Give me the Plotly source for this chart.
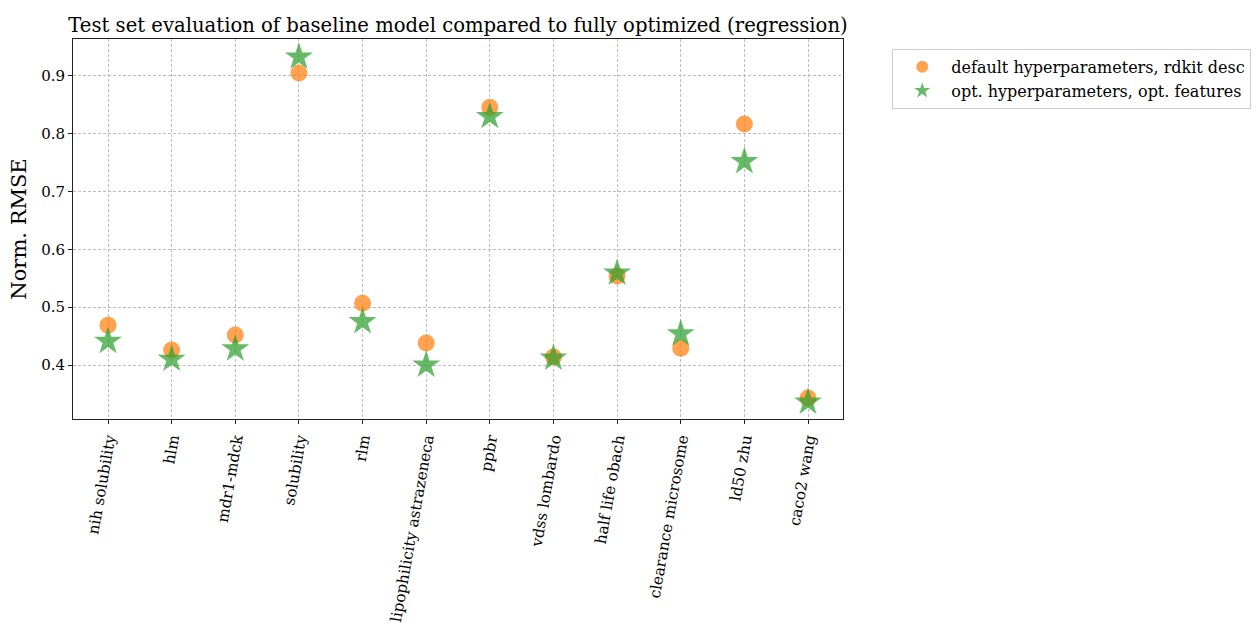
import plotly.graph_objects as go

datasets = ["nih solubility", "hlm", "mdr1-mdck", "solubility", "rlm",
            "lipophilicity astrazeneca", "ppbr", "vdss lombardo",
            "half life obach", "clearance microsome", "ld50 zhu", "caco2 wang"]
baseline_rmse = [0.469, 0.426, 0.452, 0.905, 0.507, 0.438,
                 0.846, 0.414, 0.554, 0.429, 0.817, 0.343]
optimized_rmse = [0.441, 0.410, 0.428, 0.933, 0.475, 0.400,
                  0.830, 0.412, 0.559, 0.454, 0.752, 0.336]
y_ticks = [0.4, 0.5, 0.6, 0.7, 0.8, 0.9]

FONT = "DejaVu Serif"
x_idx = list(range(len(datasets)))

fig = go.Figure()
fig.add_trace(go.Scatter(
    x=x_idx, y=baseline_rmse, mode="markers",
    name="default hyperparameters, rdkit desc",
    marker=dict(symbol="circle", size=17, color="#ff7f0e", opacity=0.72,
                line=dict(width=0)),
))
fig.add_trace(go.Scatter(
    x=x_idx, y=optimized_rmse, mode="markers",
    name="opt. hyperparameters, opt. features",
    marker=dict(symbol="star", size=21, color="#2ca02c", opacity=0.72,
                line=dict(width=0)),
))

grid = dict(showgrid=True, gridcolor="#bdbdbd", gridwidth=1, griddash="3px,2px")
fig.update_xaxes(
    range=[-0.55, 11.55], tickmode="array", tickvals=x_idx, ticktext=datasets,
    tickangle=-80, ticks="outside", ticklen=4, tickcolor="#222",
    showline=True, linecolor="#222", linewidth=1, mirror=True, zeroline=False,
    automargin=False,
    tickfont=dict(family=FONT, size=15.3, color="black"), **grid,
)
fig.update_yaxes(
    range=[0.3066, 0.964], tickmode="array", tickvals=y_ticks,
    ticktext=[f"{v:.1f}" for v in y_ticks],
    ticks="outside", ticklen=4, tickcolor="#222",
    showline=True, linecolor="#222", linewidth=1, mirror=True, zeroline=False,
    automargin=False,
    tickfont=dict(family=FONT, size=15, color="black"),
    title=dict(text="Norm. RMSE", font=dict(family=FONT, size=21, color="black"),
               standoff=8),
    **grid,
)
fig.update_layout(
    width=1256, height=630,
    margin=dict(l=73, r=413, t=39, b=211, autoexpand=False),
    paper_bgcolor="white", plot_bgcolor="white",
    title=dict(text="Test set evaluation of baseline model compared to fully optimized (regression)",
               font=dict(family=FONT, size=19.6, color="black"),
               x=(73 + 843) / 2 / 1256, xanchor="center", y=1 - 25 / 630, yanchor="middle"),
    legend=dict(x=1.064, y=0.974, xanchor="left", yanchor="top",
                bgcolor="white", bordercolor="#cccccc", borderwidth=1,
                font=dict(family=FONT, size=16, color="black"),
                itemsizing="constant", itemwidth=48, tracegroupgap=0),
    showlegend=True,
)

fig.write_html("out.html")
